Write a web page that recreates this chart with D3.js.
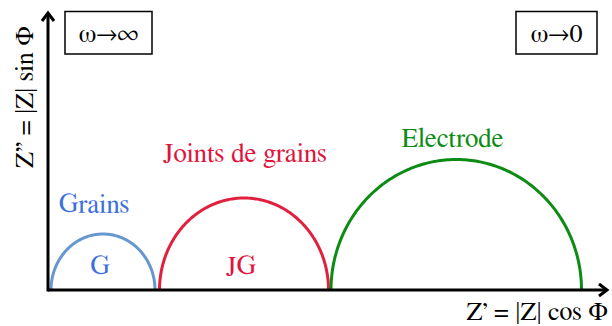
<!DOCTYPE html>
<html>
<head>
<meta charset="utf-8">
<script src="https://cdn.jsdelivr.net/npm/d3@7"></script>
</head>
<body style="margin:0;background:#fff">
<svg id="chart" width="612" height="326" style="display:block"></svg>
<script>
// Nyquist plot of an ideal polycrystalline ceramic: three relaxation arcs
const arcNames   = ["Grains", "Joints de grains", "Electrode"];
const arcShort   = ["G", "JG", ""];
const arcStart   = [0.03, 1.115, 2.83];   // Z' where each arc leaves the axis
const arcEnd     = [1.07, 2.805, 5.335];  // Z' where each arc returns to the axis
const arcPeak    = [0.56, 0.92, 1.305];   // maximum Z'' of each arc
const arcColors  = ["#6797cf", "#e0203e", "#0c8c14"];
const textColors = ["#3f6fdc", "#e0143c", "#0c8c14"];
const freqLabels = ["ω→∞", "ω→0"];

const FONT = "FreeSerif, 'Liberation Serif', serif";

const svg = d3.select("#chart");

const x = d3.scaleLinear().domain([0, 5.6]).range([48, 608]);
const y = d3.scaleLinear().domain([0, 2.78]).range([290, 12]);

// arcs (half ellipses) built from start, end and peak values
const line = d3.line().x(d => d[0]).y(d => d[1]);
arcNames.forEach((name, i) => {
  const c = (arcStart[i] + arcEnd[i]) / 2;
  const r = (arcEnd[i] - arcStart[i]) / 2;
  const pts = d3.range(0, 181).map(a => {
    const t = Math.PI * a / 180;
    return [x(c - r * Math.cos(t)), y(arcPeak[i] * Math.sin(t))];
  });
  svg.append("path")
    .attr("d", line(pts))
    .attr("fill", "none")
    .attr("stroke", arcColors[i])
    .attr("stroke-width", 3);
});

// axes with open arrowheads
const ax = svg.append("g").attr("stroke", "#000").attr("stroke-width", 3).attr("fill", "none");
ax.append("line").attr("x1", x(0)).attr("y1", y(0)).attr("x2", x(5.6) - 1).attr("y2", y(0));
ax.append("line").attr("x1", x(0)).attr("y1", y(0) + 1.5).attr("x2", x(0)).attr("y2", y(2.78) + 1);
ax.append("path")
  .attr("d", `M${x(5.6) - 9},${y(0) - 6}L${x(5.6) - 1},${y(0)}L${x(5.6) - 9},${y(0) + 6}`)
  .attr("stroke-linejoin", "miter");
ax.append("path")
  .attr("d", `M${x(0) - 6},${y(2.78) + 9}L${x(0)},${y(2.78) + 1}L${x(0) + 6},${y(2.78) + 9}`)
  .attr("stroke-linejoin", "miter");

// axis titles
svg.append("text")
  .attr("x", 608).attr("y", 320)
  .attr("text-anchor", "end")
  .style("font-family", FONT)
  .style("font-size", "26px")
  .text("Z’ = |Z| cos Φ");
svg.append("text")
  .attr("transform", "translate(33,97) rotate(-90)")
  .attr("text-anchor", "middle")
  .style("font-family", FONT)
  .style("font-size", "26px")
  .text("Z’’ = |Z| sin Φ");

// arc names above each arc and short tags inside
const nameX = [94, 245, 452.5];
const nameY = [213, 162, 147];
arcNames.forEach((name, i) => {
  svg.append("text")
    .attr("x", nameX[i]).attr("y", nameY[i])
    .attr("text-anchor", "middle")
    .style("font-family", FONT)
    .style("font-size", "27px")
    .attr("fill", textColors[i])
    .text(name);
  if (arcShort[i]) {
    svg.append("text")
      .attr("x", x((arcStart[i] + arcEnd[i]) / 2) - 3).attr("y", 275)
      .attr("text-anchor", "middle")
      .style("font-family", FONT)
      .style("font-size", "27px")
      .attr("fill", textColors[i])
      .text(arcShort[i]);
  }
});

// frequency limit boxes
const boxX = [65, 516];
const boxW = [87, 81];
freqLabels.forEach((lab, i) => {
  svg.append("rect")
    .attr("x", boxX[i]).attr("y", 11.5)
    .attr("width", boxW[i]).attr("height", 42.5)
    .attr("fill", "#fff").attr("stroke", "#000").attr("stroke-width", 1.5);
  svg.append("text")
    .attr("x", boxX[i] + boxW[i] / 2).attr("y", 42)
    .attr("text-anchor", "middle")
    .style("font-family", FONT)
    .style("font-size", "26px")
    .text(lab);
});
</script>
</body>
</html>
